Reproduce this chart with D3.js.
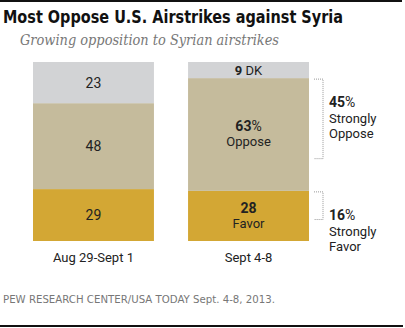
<!DOCTYPE html>
<html>
<head>
<meta charset="utf-8">
<script src="https://cdn.jsdelivr.net/npm/d3@7"></script>
<style>
  body { margin: 0; background: #fff; }
  svg text { font-family: "Roboto", "Liberation Sans", sans-serif; }
</style>
</head>
<body>
<div id="chart"></div>
<script>
// Data
var categories = ["Aug 29-Sept 1", "Sept 4-8"];
var favor = [29, 28];
var oppose = [48, 63];
var dk = [23, 9];
var strongly = [{label: "Oppose", value: 45}, {label: "Favor", value: 16}];

var width = 405, height = 328;

var svg = d3.select("#chart").append("svg")
  .attr("width", width)
  .attr("height", height);

// rules top and bottom
svg.append("rect").attr("x", 0).attr("y", 0).attr("width", 402).attr("height", 2).attr("fill", "#111");
svg.append("rect").attr("x", 0).attr("y", 325).attr("width", 403).attr("height", 2).attr("fill", "#111");

// title
svg.append("text")
  .attr("x", 3).attr("y", 23)
  .style("font-family", "'DejaVu Sans', Verdana, sans-serif")
  .style("font-weight", "bold")
  .style("font-size", "17px")
  .attr("fill", "#111")
  .attr("textLength", 340)
  .attr("lengthAdjust", "spacingAndGlyphs")
  .text("Most Oppose U.S. Airstrikes against Syria");

svg.append("text")
  .attr("x", 20).attr("y", 45)
  .style("font-family", "'DejaVu Serif', Georgia, serif")
  .style("font-style", "italic")
  .style("font-size", "14px")
  .attr("fill", "#777")
  .attr("textLength", 259)
  .attr("lengthAdjust", "spacingAndGlyphs")
  .text("Growing opposition to Syrian airstrikes");

// scales
var x = d3.scaleBand()
  .domain(categories)
  .range([33, 309])
  .paddingInner(0.22)
  .paddingOuter(0);

var y = d3.scaleLinear()
  .domain([0, 100])
  .range([241, 62]);

var rows = categories.map(function(c, i) {
  return {cat: c, favor: favor[i], oppose: oppose[i], dk: dk[i]};
});
var keys = ["favor", "oppose", "dk"];
var colors = {favor: "#d3a734", oppose: "#c5bb9c", dk: "#d2d3d5"};
var series = d3.stack().keys(keys)(rows);

// Draw stacked bars
svg.selectAll("g.layer")
  .data(series)
  .enter()
  .append("g")
  .attr("class", "layer")
  .attr("fill", function(d) { return colors[d.key]; })
  .selectAll("rect")
  .data(function(d) { return d; })
  .enter()
  .append("rect")
  .attr("x", function(d) { return x(d.data.cat); })
  .attr("y", function(d) { return y(d[1]); })
  .attr("width", x.bandwidth())
  .attr("height", function(d) { return y(d[0]) - y(d[1]); });

// category labels
svg.selectAll("text.cat")
  .data(categories)
  .enter()
  .append("text")
  .attr("class", "cat")
  .attr("x", function(d) { return x(d) + x.bandwidth() / 2; })
  .attr("y", 262)
  .attr("text-anchor", "middle")
  .style("font-size", "13px")
  .attr("fill", "#222")
  .text(function(d) { return d; });

var cx0 = x(categories[0]) + x.bandwidth() / 2;
var cx1 = x(categories[1]) + x.bandwidth() / 2;
var mid = function(a, b) { return (y(a) + y(b)) / 2; };

// first bar: plain numbers
var first = [
  {v: favor[0], lo: 0, hi: favor[0]},
  {v: oppose[0], lo: favor[0], hi: favor[0] + oppose[0]},
  {v: dk[0], lo: favor[0] + oppose[0], hi: 100}
];
svg.selectAll("text.v0")
  .data(first)
  .enter()
  .append("text")
  .attr("class", "v0")
  .attr("x", cx0)
  .attr("y", function(d) { return mid(d.lo, d.hi) + 5; })
  .attr("text-anchor", "middle")
  .style("font-size", "14px")
  .attr("fill", "#222")
  .text(function(d) { return d.v; });

// second bar labels
var dkT = svg.append("text")
  .attr("x", cx1).attr("y", mid(100 - dk[1], 100) + 5)
  .attr("text-anchor", "middle")
  .style("font-size", "13px")
  .attr("fill", "#222");
dkT.append("tspan").style("font-weight", "bold").text(dk[1]);
dkT.append("tspan").text(" DK");

var opM = mid(favor[1], favor[1] + oppose[1]);
var opT = svg.append("text")
  .attr("x", cx1).attr("y", opM - 3)
  .attr("text-anchor", "middle")
  .style("font-size", "14px")
  .attr("fill", "#222");
opT.append("tspan").style("font-weight", "bold").text(oppose[1]);
opT.append("tspan").text("%");
svg.append("text")
  .attr("x", cx1).attr("y", opM + 12)
  .attr("text-anchor", "middle")
  .style("font-size", "13px")
  .attr("fill", "#222")
  .text("Oppose");

var faM = mid(0, favor[1]);
svg.append("text")
  .attr("x", cx1).attr("y", faM - 3)
  .attr("text-anchor", "middle")
  .style("font-size", "14px")
  .style("font-weight", "bold")
  .attr("fill", "#222")
  .text(favor[1]);
svg.append("text")
  .attr("x", cx1).attr("y", faM + 12)
  .attr("text-anchor", "middle")
  .style("font-size", "13px")
  .attr("fill", "#222")
  .text("Favor");

// brackets for "strongly"
var bx0 = x(categories[1]) + x.bandwidth() + 5, bx1 = bx0 + 9;
var brackets = [
  {top: favor[1] + oppose[1], bot: favor[1] + oppose[1] - strongly[0].value, s: strongly[0]},
  {top: favor[1], bot: favor[1] - strongly[1].value, s: strongly[1]}
];
brackets.forEach(function(b) {
  var yt = y(b.top) + 1, yb = y(b.bot);
  svg.append("path")
    .attr("d", "M" + bx0 + "," + yt + "H" + bx1 + "V" + yb + "H" + bx0)
    .attr("fill", "none")
    .attr("stroke", "#999")
    .attr("stroke-width", 1)
    .attr("stroke-dasharray", "1,1");
  var ty = yt + 28;
  var t = svg.append("text")
    .attr("x", bx1 + 6).attr("y", ty)
    .style("font-size", "14px")
    .attr("fill", "#222");
  t.append("tspan").style("font-weight", "bold").text(b.s.value);
  t.append("tspan").text("%");
  svg.append("text")
    .attr("x", bx1 + 6).attr("y", ty + 16)
    .style("font-size", "13px")
    .attr("fill", "#222")
    .text("Strongly");
  svg.append("text")
    .attr("x", bx1 + 6).attr("y", ty + 31)
    .style("font-size", "13px")
    .attr("fill", "#222")
    .text(b.s.label);
});

// source
svg.append("text")
  .attr("x", 3).attr("y", 303)
  .style("font-family", "'DejaVu Sans', Verdana, sans-serif")
  .style("font-size", "10px")
  .attr("fill", "#777")
  .attr("textLength", 272)
  .attr("lengthAdjust", "spacingAndGlyphs")
  .text("PEW RESEARCH CENTER/USA TODAY Sept. 4-8, 2013.");
</script>
</body>
</html>
